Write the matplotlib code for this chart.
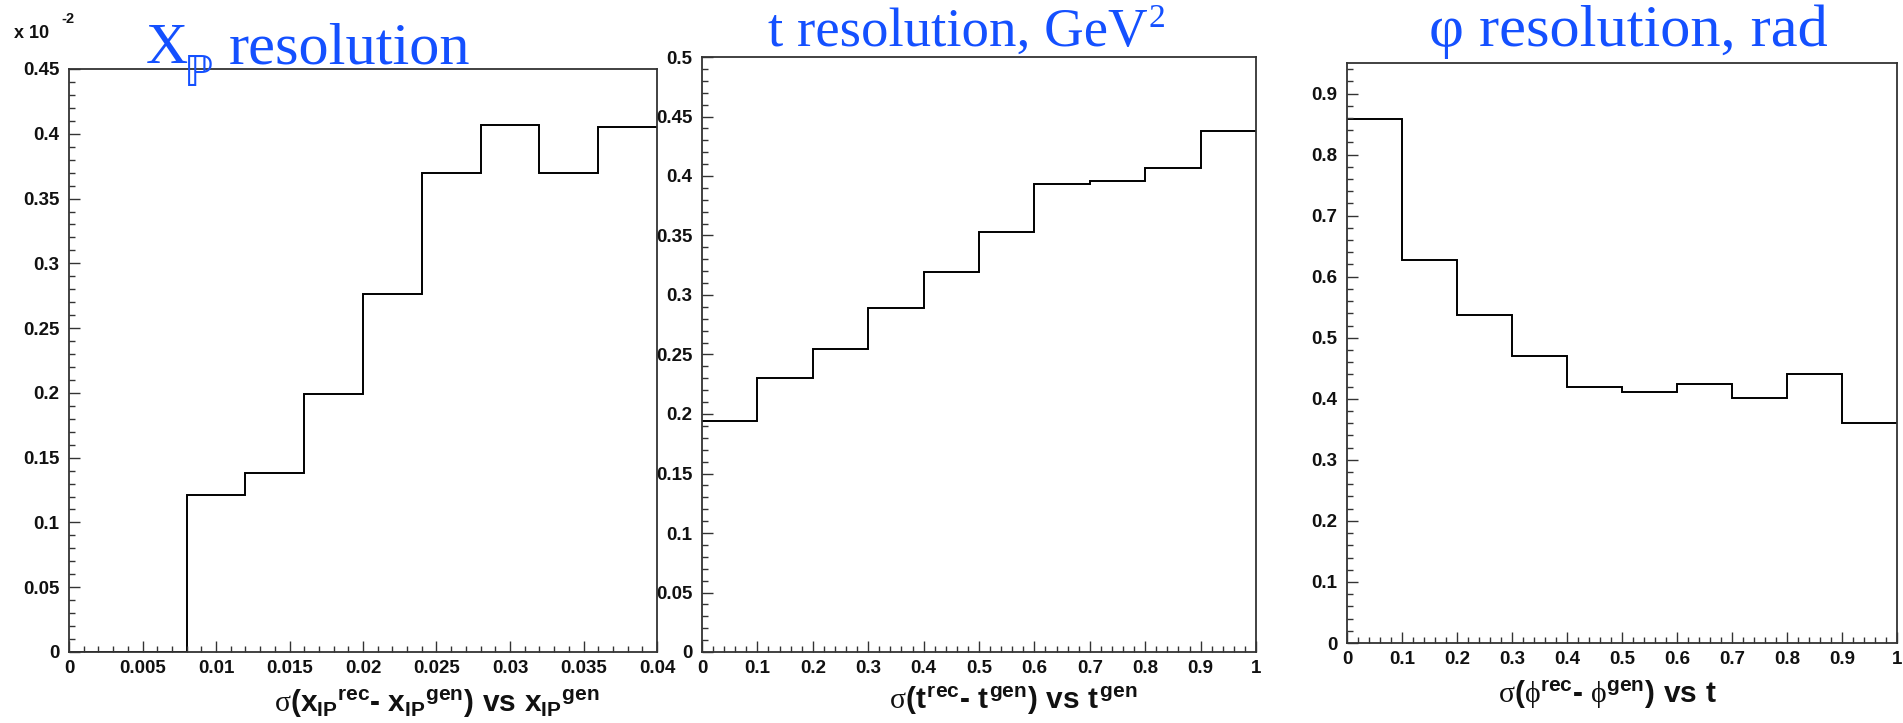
import matplotlib
matplotlib.use("Agg")
import matplotlib.pyplot as plt
from matplotlib.ticker import MultipleLocator, FuncFormatter

# ---- data -------------------------------------------------------------
xp_edges = [0.0, 0.004, 0.008, 0.012, 0.016, 0.020, 0.024, 0.028, 0.032, 0.036, 0.040]
xp_sigma = [0.0, 0.0, 0.121, 0.138, 0.199, 0.276, 0.370, 0.407, 0.370, 0.405]   # x 10^-2

t_edges = [0.0, 0.1, 0.2, 0.3, 0.4, 0.5, 0.6, 0.7, 0.8, 0.9, 1.0]
t_sigma = [0.194, 0.230, 0.255, 0.289, 0.319, 0.353, 0.393, 0.396, 0.407, 0.438]

phi_edges = [0.0, 0.1, 0.2, 0.3, 0.4, 0.5, 0.6, 0.7, 0.8, 0.9, 1.0]
phi_sigma = [0.858, 0.627, 0.538, 0.470, 0.419, 0.411, 0.425, 0.401, 0.441, 0.360]

W, H = 1903, 723
plt.rcParams['mathtext.fontset'] = 'custom'
plt.rcParams['mathtext.rm'] = 'Liberation Sans:bold'
plt.rcParams['mathtext.bf'] = 'Liberation Sans:bold'
plt.rcParams['mathtext.it'] = 'Liberation Sans:bold'
plt.rcParams['mathtext.cal'] = 'Liberation Serif'

fig = plt.figure(figsize=(W / 100, H / 100), dpi=100)
fig.patch.set_facecolor('white')

TITLE_BLUE = '#1450ff'
FRAME = '#333333'
TICK_FS = 13.5


def px_axes(l, r, t, b):
    return fig.add_axes([l / W, 1 - b / H, (r - l) / W, (b - t) / H])


def fmt(v, _):
    return f'{round(v, 6):g}'


def style(ax, xmax, ymax, xmaj, xmin, ymaj, ymin):
    ax.set_xlim(0, xmax)
    ax.set_ylim(0, ymax)
    ax.xaxis.set_major_locator(MultipleLocator(xmaj))
    ax.xaxis.set_minor_locator(MultipleLocator(xmin))
    ax.yaxis.set_major_locator(MultipleLocator(ymaj))
    ax.yaxis.set_minor_locator(MultipleLocator(ymin))
    ax.xaxis.set_major_formatter(FuncFormatter(fmt))
    ax.yaxis.set_major_formatter(FuncFormatter(fmt))
    ax.tick_params(which='both', direction='in', top=False, right=False,
                   color=FRAME, width=1.0)
    ax.tick_params(which='major', length=8)
    ax.tick_params(which='minor', length=4)
    ax.tick_params(axis='x', which='major', pad=6)
    ax.tick_params(axis='y', which='major', pad=7)
    for lab in ax.get_xticklabels() + ax.get_yticklabels():
        lab.set_fontfamily('Liberation Sans')
        lab.set_fontweight('bold')
        lab.set_fontsize(TICK_FS)
        lab.set_color('#111111')
    for s in ax.spines.values():
        s.set_color(FRAME)
        s.set_linewidth(1.3)


# ---- panel 1: x_IP ----------------------------------------------------
ax1 = px_axes(69, 657, 69, 652)
ax1.stairs(xp_sigma, xp_edges, baseline=None, color='black', lw=1.4)
style(ax1, 0.04, 0.45, 0.005, 0.001, 0.05, 0.01)
fig.text(14 / W, 1 - 38 / H, 'x 10', fontsize=13, fontweight='bold',
         family='Liberation Sans', ha='left', va='baseline', color='#111111')
fig.text(61 / W, 1 - 23 / H, '-2', fontsize=10.5, fontweight='bold',
         family='Liberation Sans', ha='left', va='baseline', color='#111111')

# ---- panel 2: t -------------------------------------------------------
ax2 = px_axes(702, 1256, 57, 652)
ax2.stairs(t_sigma, t_edges, baseline=None, color='black', lw=1.4)
style(ax2, 1.0, 0.5, 0.1, 0.02, 0.05, 0.01)

# ---- panel 3: phi -----------------------------------------------------
ax3 = px_axes(1347, 1897, 63, 643)
ax3.stairs(phi_sigma, phi_edges, baseline=None, color='black', lw=1.4)
style(ax3, 1.0, 0.95, 0.1, 0.02, 0.1, 0.02)

# ---- titles -----------------------------------------------------------
tfont = dict(family='Liberation Serif', color=TITLE_BLUE, va='baseline')
fig.text(146 / W, 1 - 63 / H, 'X', ha='left', fontsize=42, **tfont)
fig.text(184 / W, 1 - 86 / H, '\u2119', ha='left', family='DejaVu Sans',
         color=TITLE_BLUE, fontsize=30, va='baseline')
fig.text(229 / W, 1 - 63 / H, 'resolution', ha='left', fontsize=43.5, **tfont)

t2 = fig.text(768 / W, 1 - 46 / H, 't resolution, GeV', ha='left', fontsize=39.5, **tfont)
fig.canvas.draw()
t2_right = t2.get_window_extent().x1
fig.text((t2_right + 1) / W, 1 - 27 / H, '2', ha='left', fontsize=24, **tfont)

fig.text(1628 / W, 1 - 46 / H, '\u03c6 resolution, rad', ha='center', fontsize=43.5, **tfont)

# ---- axis captions ----------------------------------------------------
cap = dict(fontsize=21.5, ha='center', va='center', color='#111111')
fig.text(437 / W, 1 - 704 / H,
         r'$\mathcal{\sigma}(x_{IP}{}^{rec}\text{- }x_{IP}{}^{gen})\ vs\ x_{IP}{}^{gen}$', **cap)
fig.text(1013 / W, 1 - 701 / H,
         r'$\mathcal{\sigma}(t^{rec}\text{- }t^{gen})\ vs\ t^{gen}$', **cap)
fig.text(1608 / W, 1 - 695 / H,
         r'$\mathcal{\sigma}(\mathcal{\phi}^{rec}\text{- }\mathcal{\phi}^{gen})\ vs\ t$', **cap)

fig.savefig('out.png', dpi=100, facecolor='white')
